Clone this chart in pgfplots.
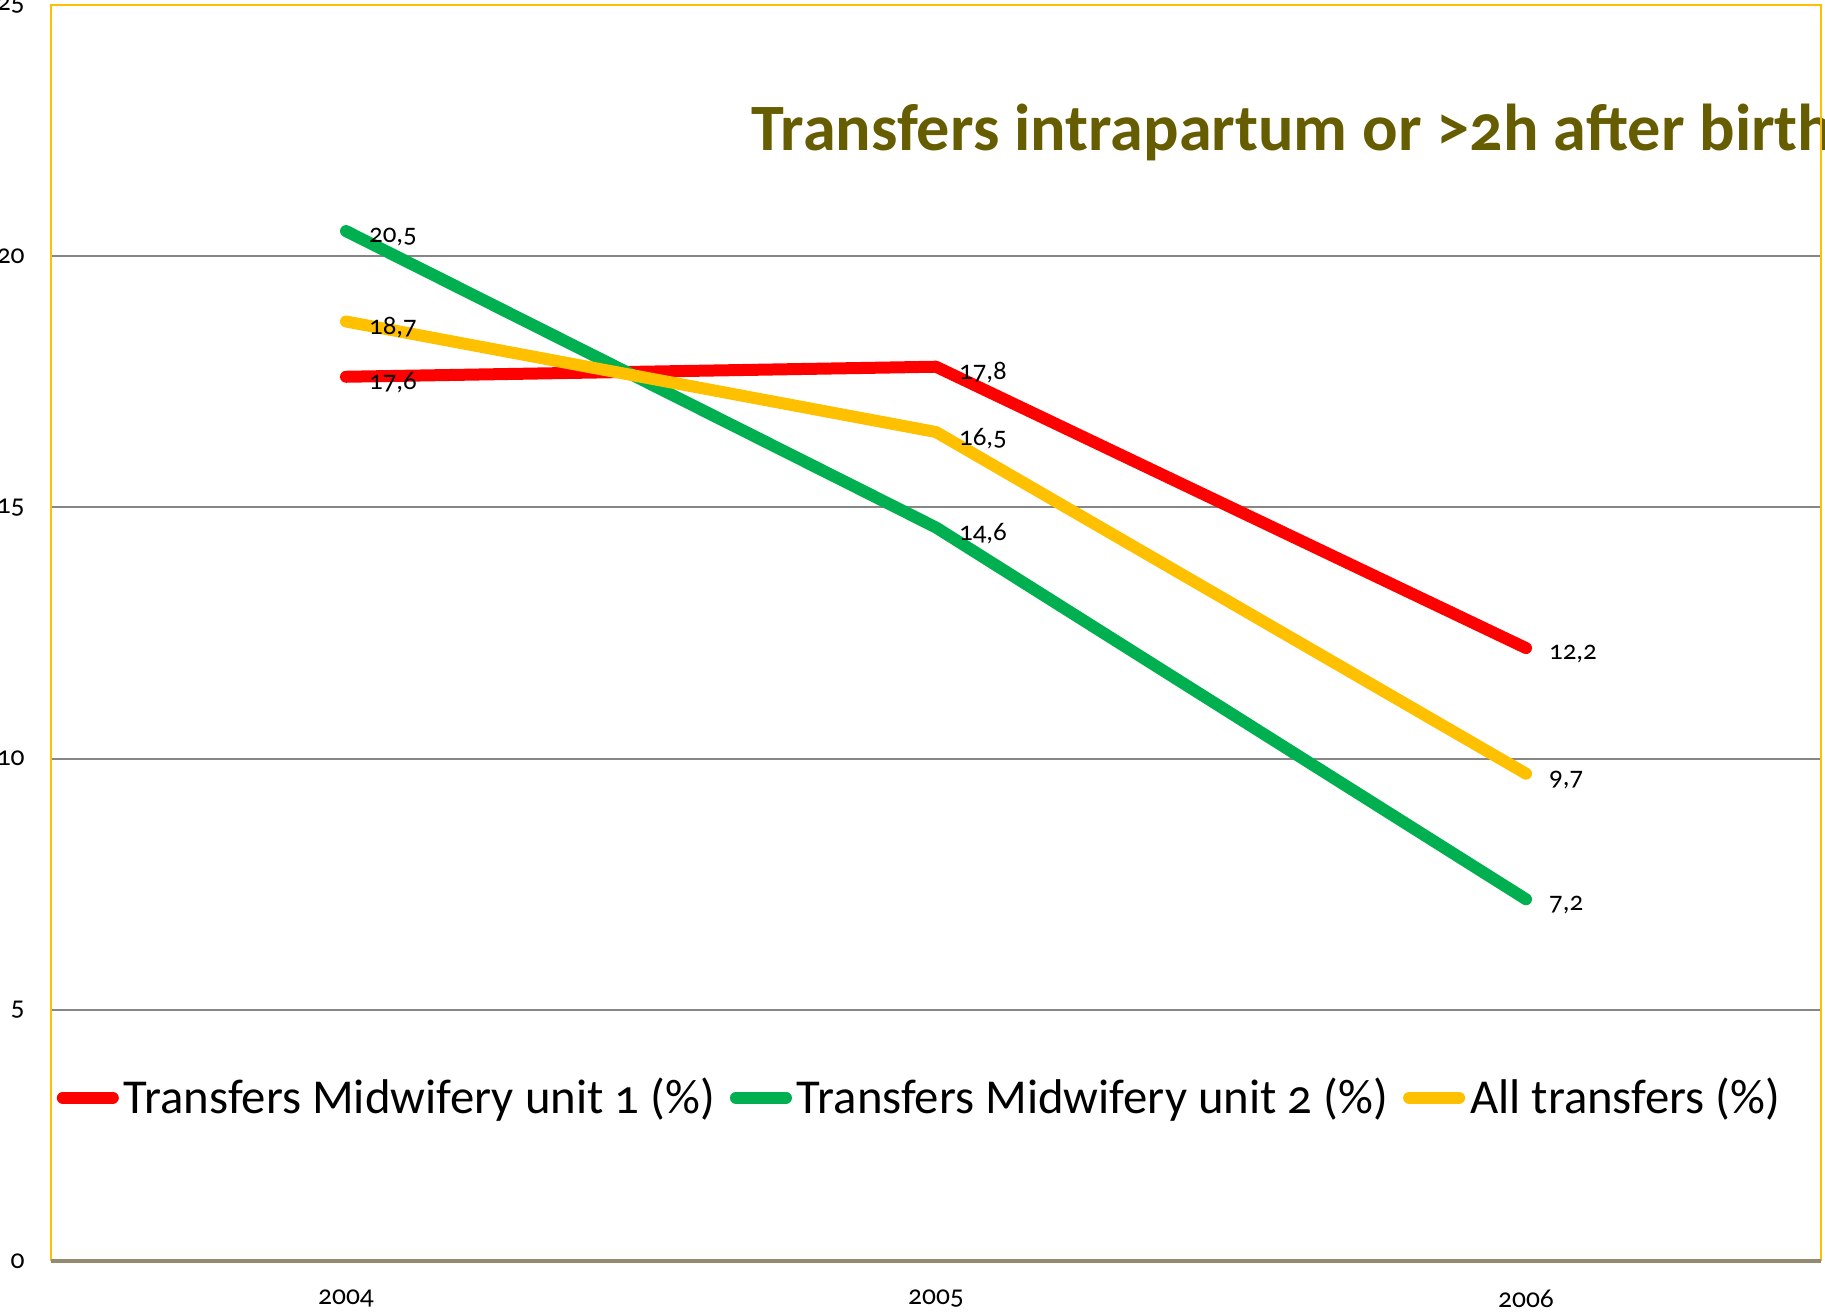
\documentclass[border=0pt]{standalone}
\usepackage{fontspec}
\setmainfont{Carlito}[Numbers=OldStyle]
\usepackage{pgfplots}
\pgfplotsset{compat=1.18}
\definecolor{cred}{HTML}{FF0000}
\definecolor{cgreen}{HTML}{00B050}
\definecolor{cgold}{HTML}{FFC000}
\definecolor{ctitle}{HTML}{665C00}
\definecolor{cgrid}{HTML}{868686}
\definecolor{cbase}{HTML}{948A70}
\begin{document}
\begin{tikzpicture}
\begin{axis}[
  scale only axis,
  width=708pt, height=502.4pt,
  xmin=2003.5, xmax=2006.5,
  ymin=0, ymax=25,
  xtick={2004,2005,2006},
  xticklabels={2004,2005,2006},
  ytick={0,5,10,15,20,25},
  yticklabels={0,5,10,15,20,25},
  major tick length=0pt,
  axis line style={draw=none},
  ymajorgrids,
  grid style={cgrid, line width=0.8pt},
  tick label style={font=\fontsize{11}{13}\selectfont, text=black},
  yticklabel style={anchor=east, xshift=-7pt},
  xticklabel style={anchor=north, yshift=-8pt},
  /pgf/number format/assume math mode=true,
  clip=false,
  legend columns=-1,
  legend style={at={(rel axis cs:0.003,0.13)}, anchor=west, draw=none, fill=none,
    font=\fontsize{19.5}{23}\selectfont, column sep=0pt,
    /tikz/every even column/.append style={column sep=4pt},
    inner sep=0pt},
  legend image code/.code={\draw[#1, line width=4.8pt, line cap=round] (0pt,0pt) -- (20pt,0pt);},
  every axis plot/.append style={line width=4.8pt, line cap=round, line join=round},
  point meta=explicit symbolic,
  nodes near coords={\pgfplotspointmeta},
  nodes near coords style={anchor=west, xshift=3.5pt, yshift=-2.5pt, font=\fontsize{10.8}{12}\selectfont, text=black},
]
\addplot[cred] coordinates {(2004,17.6) [17,6] (2005,17.8) [17,8] (2006,12.2) [12,2]};
\addlegendentry{Transfers Midwifery unit 1 (\%)}
\addplot[cgreen] coordinates {(2004,20.5) [20,5] (2005,14.6) [14,6] (2006,7.2) [7,2]};
\addlegendentry{Transfers Midwifery unit 2 (\%)}
\addplot[cgold] coordinates {(2004,18.7) [18,7] (2005,16.5) [16,5] (2006,9.7) [9,7]};
\addlegendentry{All transfers (\%)}
\coordinate (SW) at (rel axis cs:0,0);
\coordinate (NW) at (rel axis cs:0,1);
\coordinate (NE) at (rel axis cs:1,1);
\coordinate (SE) at (rel axis cs:1,0);
\node[anchor=base west, inner sep=0pt, text=ctitle, font=\fontsize{26.5}{31}\selectfont\bfseries]
  at (rel axis cs:0.3955,0.8838) {Transfers intrapartum or >2h after birth};
\end{axis}
\draw[cgold, line width=0.9pt] (SW) -- (NW) -- (NE) -- (SE);
\draw[cbase, line width=1.3pt] (SW) -- (SE);
\pgfresetboundingbox
\path[use as bounding box] ([shift={(-20.4pt,-20pt)}]SW) rectangle ([shift={(1.6pt,2pt)}]NE);
\end{tikzpicture}
\end{document}
